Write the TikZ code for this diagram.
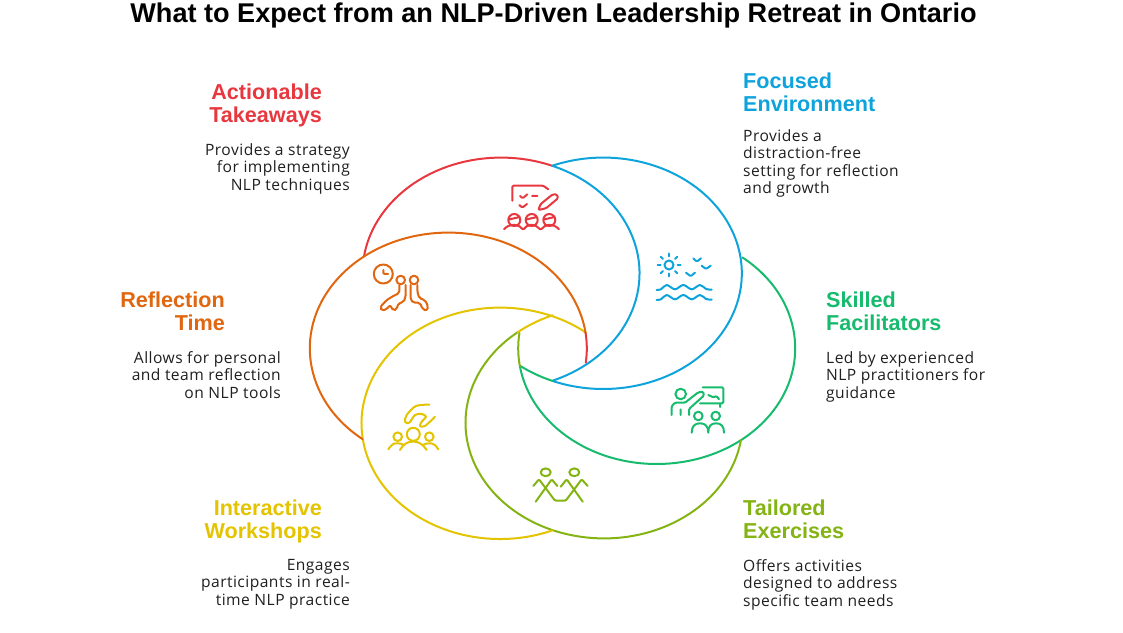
\documentclass[tikz,border=0pt]{standalone}
\usepackage{fontspec}
\setmainfont{Liberation Sans}
\newfontfamily\bodyfont{Open Sans}[LetterSpace=3]
\definecolor{cred}{HTML}{E8383F}
\definecolor{cblue}{HTML}{0FA3DC}
\definecolor{cgreen}{HTML}{17BB6E}
\definecolor{colive}{HTML}{84B414}
\definecolor{cyellow}{HTML}{E4C400}
\definecolor{corange}{HTML}{E0660F}
\newcommand{\petalarc}[4]{\draw[#1,line width=2pt] (#2) ++(#3:138.5 and 115.7) arc[start angle=#3,end angle=#4,x radius=138.5,y radius=115.7];}
\tikzset{
	headl/.style={anchor=north west,align=left,inner sep=0pt,font=\fontsize{21.6}{22.8}\selectfont\bfseries},
	headr/.style={anchor=north east,align=right,inner sep=0pt,font=\fontsize{21.6}{22.8}\selectfont\bfseries},
	bodyl/.style={anchor=north west,align=left,inner sep=0pt,font=\fontsize{15.6}{17.5}\selectfont\bodyfont,text=black!88},
	bodyr/.style={anchor=north east,align=right,inner sep=0pt,font=\fontsize{15.6}{17.5}\selectfont\bodyfont,text=black!88},
	icon/.style={line width=2pt,rounded corners=1.2pt}
}
\begin{document}
\begin{tikzpicture}[x=1pt,y=1pt,line join=round,line cap=round]
\useasboundingbox (0,0) rectangle (1123,632);
	\coordinate (red) at (501,358.7);
	\coordinate (blue) at (603.3,358.7);
	\coordinate (green) at (656.7,283.7);
	\coordinate (olive) at (604,209.3);
	\coordinate (yellow) at (500,208.7);
	\coordinate (orange) at (448.3,283.7);
	% the six rings
	\petalarc{cred}{red}{171.7}{68}
	\petalarc{cblue}{red}{68}{-68}
	\petalarc{cblue}{blue}{111.5}{-111.5}
	\petalarc{cgreen}{blue}{-111.5}{-127}
	\petalarc{cgreen}{green}{51.8}{-171}
	\petalarc{colive}{green}{-171}{-187.7}
	\petalarc{colive}{olive}{-8.6}{-231.5}
	\petalarc{cyellow}{olive}{-231.5}{-248.2}
	\petalarc{cyellow}{yellow}{-67.6}{-308.4}
	\petalarc{corange}{orange}{-128.3}{-352.3}
	\petalarc{cred}{orange}{-352.3}{-367.1}
	% texts
	\node[font=\fontsize{27.1}{30}\selectfont\bfseries] (title) at (553.5,616.5) {What to Expect from an NLP-Driven Leadership Retreat in Ontario};
	\node[headr,text=cred] (takehead) at (322,548) {Actionable\\Takeaways};
	\node[bodyr] (takebody) at (350,489) {Provides a strategy\\for implementing\\NLP techniques};
	\node[headl,text=cblue] (envhead) at (743,559) {Focused\\Environment};
	\node[bodyl] (envbody) at (743,503) {Provides a\\distraction-free\\setting for reflection\\and growth};
	\node[headl,text=cgreen] (skillhead) at (826,340) {Skilled\\Facilitators};
	\node[bodyl] (skillbody) at (826,281) {Led by experienced\\NLP practitioners for\\guidance};
	\node[headr,text=corange] (timehead) at (225,340) {Reflection\\Time};
	\node[bodyr] (timebody) at (281,281) {Allows for personal\\and team reflection\\on NLP tools};
	\node[headr,text=cyellow] (workhead) at (322,132) {Interactive\\Workshops};
	\node[bodyr] (workbody) at (350,73) {Engages\\participants in real-\\time NLP practice};
	\node[headl,text=colive] (exhead) at (743,132) {Tailored\\Exercises};
	\node[bodyl] (exbody) at (743,73) {Offers activities\\designed to address\\specific team needs};
	% icons, in image coordinates
	\begin{scope}[shift={(0,632)},yscale=-1,icon]
		\draw[cred] (512.3,200.7)--(512.3,185.7)--(543.3,185.7)--(548.3,189.3);
		\draw[cred] (520,196)--(522.7,198.3)--(527.3,194.3) (532,196)--(537.3,196) (519.3,205)--(522.3,207.7)--(527,204);
		\draw[cred] (538.3,210)--(540.7,204)--(552.5,194.5)--(557,194.5)--(558,198.3)--(546,208.3)--cycle;
		\foreach \cx in {514.3,531.7,549.3}
			\draw[cred] (\cx,220) circle(6) (\cx-5.5,219.5)--(\cx+5.5,217);
		\draw[cred] (504,229.3)..controls (507,226) and (510,225)..(514,225)..controls (518,225) and (521,227)..(523.3,230)..controls (525,227) and (528,225)..(531.7,225)..controls (535,225) and (538,227)..(540.7,230)..controls (543,227) and (546,225)..(549.3,225)..controls (553,225) and (556,226)..(559,229.3);

		\draw[cblue] (669,265) circle(4.5);
		\foreach \ang in {0,45,...,315}
			\draw[cblue] (669,265)++(\ang:8.5)--++(\ang:3);
		\draw[cblue] (693.3,258.3)--(696.7,261.7)--(701,258.3) (701.7,265.7)--(706,269)--(710.7,265.7) (686,272.7)--(690.7,276.3)--(695,272.7);
		\foreach \dy in {0,10}
			\draw[cblue,shift={(0,\dy)},rounded corners=0pt] plot[smooth,tension=.6] coordinates {(656.7,290) (661,289.3) (666.7,285) (675,289.3) (683.3,285) (691.7,289.3) (700,285) (706,289) (711.7,289.7)};

		\draw[cgreen] (680.7,394) circle(5.3);
		\draw[cgreen] (671.7,415)--(671.7,406)--(675,402.7)--(685,402.7)--(698,392.5)--(703,391.5)--(704,395.5)--(689,409)--(689,415) (680.7,409.5)--(680.7,415);
		\draw[cgreen] (702.7,387.3)--(723.3,387.3)--(723.3,403.3)--(700,403.3) (720,403.3)--(720,407);
		\draw[cgreen] (708.3,395)--(713.3,397.3)--(716.7,396)--(719,399.3);
		\draw[cgreen] (698.3,416) circle(4.3) (715.7,416) circle(4.3);
		\draw[cgreen,rounded corners=0pt] (691.7,432.7)..controls (691.7,426) and (695,423.3)..(700,423.3)..controls (705,423.3) and (708.3,426)..(708.3,432.7)..controls (708.3,426) and (711,423.3)..(716,423.3)..controls (721,423.3) and (724,426)..(724,432.7);

		\draw[colive] (545.7,472.3) ellipse(5 and 3.9) (574.3,472.3) ellipse(5 and 3.9);
		\draw[colive] (533.3,486)--(539,479.3)--(555,500.7)--(565.7,500.7)--(581.7,479.3)--(587.7,486);
		\draw[colive] (535.7,501.7)--(551.7,479.3)--(557.3,486) (560.7,486.7)--(566.7,479.3)--(582.7,501.7);

		\draw[cyellow,rounded corners=0pt] plot[smooth,tension=.55] coordinates {(429.3,404.7) (416,406) (406.7,415) (405,421.7) (409.3,422.7) (415,415) (421.7,414) (426,416.7) (421.7,421.7) (420,426) (425,426) (435,416.7)};
		\draw[cyellow] (413.3,434.3) circle(6.5) (397.7,436.7) circle(4.3) (429.3,436.7) circle(4.3);
		\draw[cyellow] (400,450)..controls (403,444) and (408,441.7)..(413.3,441.7)..controls (418,441.7) and (423,444)..(426.7,450);
		\draw[cyellow] (388.3,449.3)..controls (391,445) and (394,443.3)..(396.7,443.3)..controls (400,443.3) and (402,444)..(404,445);
		\draw[cyellow] (438.3,449.3)..controls (435.5,445) and (433,443.3)..(430,443.3)..controls (427,443.3) and (425,444)..(422.7,445);

		\draw[corange] (383.3,274) circle(9.5) (383.3,270)--(383.3,274)--(388,274);
		\draw[corange] (400.7,280) circle(4.3) (414,280) circle(4.3);
		\draw[corange,rounded corners=2pt] (399.3,285)--(399.3,293.3)--(395,295)--(386.7,300)--(380,307.3)--(381.7,310.7)--(386.7,309.3)--(390,305)--(393.3,310.7)--(396.7,309.3)--(398.3,303.3)--(403.3,302.3)--(405.7,296.7)--(405.7,285);
		\draw[corange,rounded corners=2pt] (410.7,285)--(410.7,300)--(413.3,302.7)--(420,302.7)--(422.7,309.3)--(426.7,310.7)--(428.3,306.7)--(425,300)--(419.3,298.3)--(417.3,291.7)--(417.3,285);
	\end{scope}
\end{tikzpicture}
\end{document}
